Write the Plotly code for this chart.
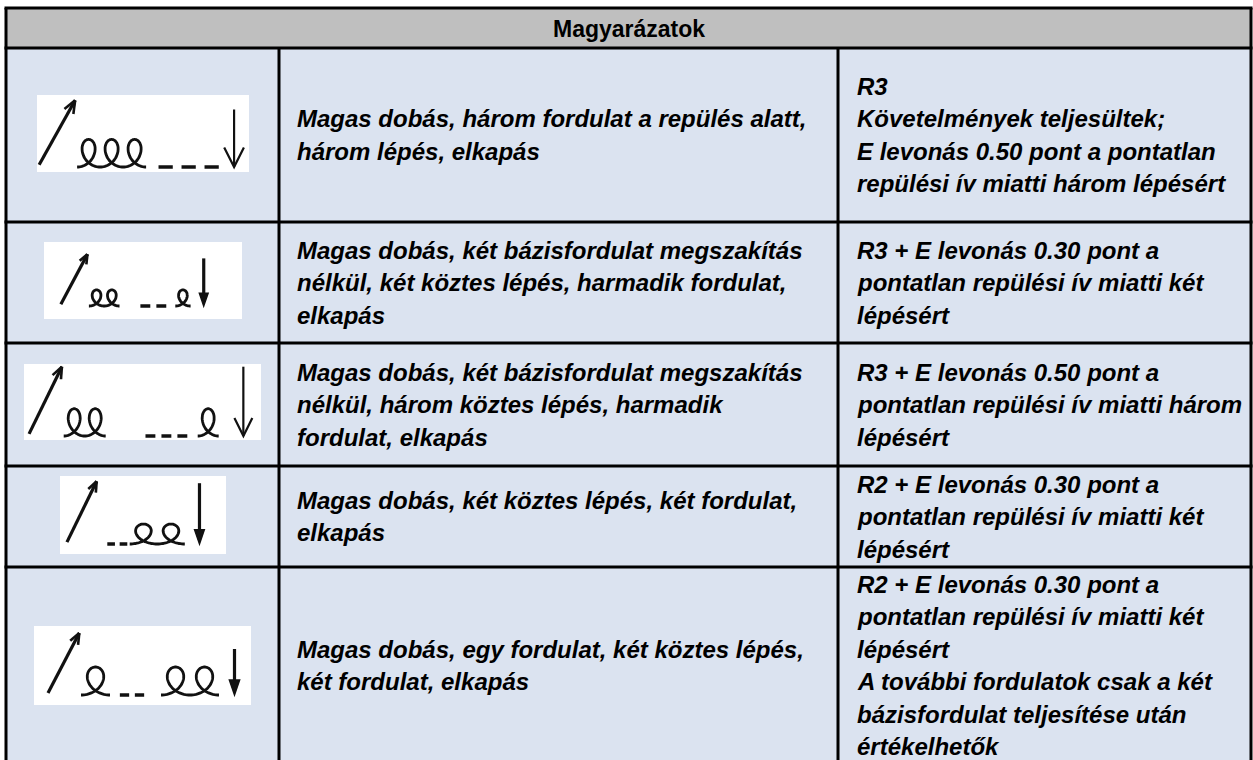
import numpy as np
import plotly.graph_objects as go

# ---------------- data ----------------
header_text = "Magyarázatok"

# symbol notation per row: U = high throw (up arrow), L = rotation loop,
# - = step, space = gap, D = catch (thin arrow), d = catch (bold arrow)
symbol_codes = ["ULLL ---D", "ULL   -- L d", "ULL     --- L  D", "U --LL d", "UL --  LL d"]

description_lines = [
    ["Magas dobás, három fordulat a repülés alatt,", "három lépés, elkapás"],
    ["Magas dobás, két bázisfordulat megszakítás", "nélkül, két köztes lépés, harmadik fordulat,", "elkapás"],
    ["Magas dobás, két bázisfordulat megszakítás", "nélkül, három köztes lépés, harmadik", "fordulat, elkapás"],
    ["Magas dobás, két köztes lépés, két fordulat,", "elkapás"],
    ["Magas dobás, egy fordulat, két köztes lépés,", "két fordulat, elkapás"],
]

evaluation_lines = [
    ["R3", "Követelmények teljesültek;", "E levonás 0.50 pont a pontatlan", "repülési ív miatti három lépésért"],
    ["R3 + E levonás 0.30 pont a", "pontatlan repülési ív miatti két", "lépésért"],
    ["R3 + E levonás 0.50 pont a", "pontatlan repülési ív miatti három", "lépésért"],
    ["R2 + E levonás 0.30 pont a", "pontatlan repülési ív miatti két", "lépésért"],
    ["R2 + E levonás 0.30 pont a", "pontatlan repülési ív miatti két", "lépésért",
     "A további fordulatok csak a két", "bázisfordulat teljesítése után", "értékelhetők"],
]

# ---------------- layout ----------------
W, H = 1253, 760
col_x = [6, 279, 838, 1251]
row_y = [8, 48, 222, 343, 466, 567, 765]
header_bg = "#BFBFBF"
cell_bg = "#DBE3F0"
line_w = 3
font_family = "Liberation Sans, Arial, sans-serif"
body_size = 24
header_size = 23
line_gap = 32.5
text_pad = [0, 16, 17]
row_text_center = [135, 282.5, 404.5, 516.5, 665.5]

# symbol image boxes (x0, y0, x1, y1) and glyph geometry (layout only)
sym_boxes = [(37, 95, 249, 172), (44, 242, 242, 319), (24, 364, 261, 440),
             (60, 476, 226, 554), (34, 626, 251, 705)]
sym_unit = [23, 17, 21, 19, 20]
sym_start = [38, 60, 28, 66, 47]
sym_base = [167, 306, 436, 544, 695]
sym_loop_w = [1.0, 0.9, 1.0, 1.45, 1.45]
sym_loop_h = [1.2, 0.95, 1.3, 1.05, 1.4]
sym_dash_w = [1.0, 0.94, 0.76, 0.65, 0.75]
sym_up_h = [2.9, 3.05, 3.3, 3.3, 3.1]
sym_down_h = [2.5, 2.8, 3.3, 3.2, 2.3]

tok_w = {"U": 1.7, " ": 0.35, "D": 0.95, "d": 0.85}
ink = "#111111"

fig = go.Figure()
shapes = []
annotations = []

# header background
shapes.append(dict(type="rect", x0=col_x[0], x1=col_x[3], y0=row_y[0], y1=row_y[1],
                   fillcolor=header_bg, line_width=0, layer="below"))
# body background
shapes.append(dict(type="rect", x0=col_x[0], x1=col_x[3], y0=row_y[1], y1=row_y[-1],
                   fillcolor=cell_bg, line_width=0, layer="below"))

# symbol boxes
for (bx0, by0, bx1, by1) in sym_boxes:
    shapes.append(dict(type="rect", x0=bx0, x1=bx1, y0=by0, y1=by1,
                       fillcolor="white", line_width=0, layer="below"))


def fmt(pts):
    return "M " + " L ".join(f"{x:.1f},{y:.1f}" for x, y in pts)


for r, code in enumerate(symbol_codes):
    u = sym_unit[r]
    x = sym_start[r]
    base = sym_base[r]
    loop_pts = []
    for ch in code:
        if ch == "L":
            w = sym_loop_w[r] * u
        elif ch == "-":
            w = sym_dash_w[r] * u
        else:
            w = tok_w[ch] * u
        if ch != "L" and loop_pts:
            shapes.append(dict(type="path", path=fmt(loop_pts), line=dict(color=ink, width=2.8)))
            loop_pts = []
        if ch == "U":
            h = sym_up_h[r] * u
            x0, y0, x1, y1 = x + 0.05 * u, base - 0.1 * u, x + 0.95 * w, base - h
            shapes.append(dict(type="line", x0=x0, y0=y0, x1=x1, y1=y1,
                               line=dict(color=ink, width=3.2)))
            ang = np.arctan2(y1 - y0, x1 - x0)
            L = 0.6 * u
            for da in (0.38, -0.38):
                bx = x1 - L * np.cos(ang + da)
                by = y1 - L * np.sin(ang + da)
                shapes.append(dict(type="line", x0=x1, y0=y1, x1=bx, y1=by,
                                   line=dict(color=ink, width=2.6)))
        elif ch == "L":
            hh = sym_loop_h[r] * u
            t = np.linspace(0, 2 * np.pi, 80)
            xs = x + w * (t + 3.2 * np.sin(t)) / (2 * np.pi)
            ys = base - hh * (1 - np.cos(t)) / 2
            pts = list(zip(xs, ys))
            if loop_pts:
                pts = pts[1:]
            loop_pts.extend(pts)
        elif ch == "-":
            dl = 0.62 * w
            cx = x + w / 2
            shapes.append(dict(type="line", x0=cx - dl / 2, x1=cx + dl / 2, y0=base, y1=base,
                               line=dict(color=ink, width=3.5)))
        elif ch in "Dd":
            h = sym_down_h[r] * u
            cx = x + w / 2
            if ch == "D":
                shapes.append(dict(type="line", x0=cx, x1=cx, y0=base - h, y1=base,
                                   line=dict(color=ink, width=2.2)))
                hw = 0.45 * w
                shapes.append(dict(type="path",
                                   path=fmt([(cx - hw, base - 0.85 * u), (cx, base), (cx + hw, base - 0.85 * u)]),
                                   line=dict(color=ink, width=2.2)))
            else:
                shapes.append(dict(type="line", x0=cx, x1=cx, y0=base - h, y1=base - 0.5 * u,
                                   line=dict(color=ink, width=3.2)))
                hw = 0.3 * w
                shapes.append(dict(type="path",
                                   path=fmt([(cx - hw, base - 0.75 * u), (cx, base), (cx + hw, base - 0.75 * u)]) + " Z",
                                   fillcolor=ink, line=dict(color=ink, width=1.5)))
        x += w
    if loop_pts:
        shapes.append(dict(type="path", path=fmt(loop_pts), line=dict(color=ink, width=2.8)))

# grid lines
for yv in row_y[:-1]:
    shapes.append(dict(type="line", x0=col_x[0] - 1.5, x1=col_x[3] + 1.5, y0=yv, y1=yv,
                       line=dict(color="black", width=line_w)))
for xv in (col_x[0], col_x[3]):
    shapes.append(dict(type="line", x0=xv, x1=xv, y0=row_y[0], y1=row_y[-1],
                       line=dict(color="black", width=line_w)))
for xv in (col_x[1], col_x[2]):
    shapes.append(dict(type="line", x0=xv, x1=xv, y0=row_y[1], y1=row_y[-1],
                       line=dict(color="black", width=line_w)))

# header text
annotations.append(dict(x=(col_x[0] + col_x[3]) / 2, y=(row_y[0] + row_y[1]) / 2 + 1,
                        text=header_text, showarrow=False, xanchor="center", yanchor="middle",
                        font=dict(family=font_family, size=header_size, color="black", weight="bold")))

# body text
for r in range(5):
    cy = row_text_center[r]
    for col, lines in ((1, description_lines[r]), (2, evaluation_lines[r])):
        n = len(lines)
        for i, ln in enumerate(lines):
            annotations.append(dict(x=col_x[col] + text_pad[col], y=cy + (i - (n - 1) / 2) * line_gap,
                                    text=ln, showarrow=False, xanchor="left", yanchor="middle",
                                    font=dict(family=font_family, size=body_size, color="black",
                                              weight="bold", style="italic")))

fig.update_layout(
    width=W, height=H, margin=dict(l=0, r=0, t=0, b=0),
    paper_bgcolor="white", plot_bgcolor="white",
    xaxis=dict(range=[0, W], visible=False, fixedrange=True),
    yaxis=dict(range=[H, 0], visible=False, fixedrange=True),
    shapes=shapes, annotations=annotations, showlegend=False,
)

fig.write_html("out.html", config={"displayModeBar": False},
               post_script="document.body.style.margin='0';")
